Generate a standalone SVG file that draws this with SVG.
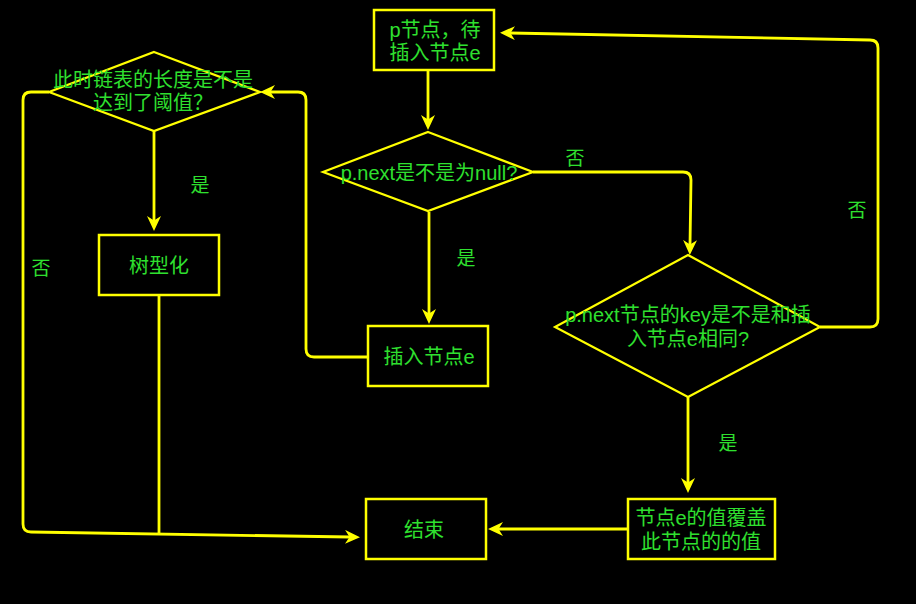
<svg xmlns="http://www.w3.org/2000/svg" width="916" height="604" viewBox="0 0 916 604">
<defs>
<style>
.bg{fill:#000}
.shape{fill:#000;stroke:#ffff00;stroke-width:2.5}
.dia{fill:none;stroke:#ffff00;stroke-width:2.2}
.t{font-family:"Liberation Sans","Noto Sans CJK SC",sans-serif;font-size:20px;fill:#2fe02f;text-anchor:middle;dominant-baseline:central}
.lbl{font-family:"Noto Sans CJK SC",sans-serif;font-size:19px;fill:#2fe02f;text-anchor:middle;dominant-baseline:central}
.edge{fill:none;stroke:#ffff00;stroke-width:2.8;marker-end:url(#arr)}
.plain{fill:none;stroke:#ffff00;stroke-width:2.8}
</style>
<marker id="arr" viewBox="0 0 15 14" markerWidth="15" markerHeight="14" refX="5" refY="7" orient="auto" markerUnits="userSpaceOnUse">
<path d="M0,0 L15,7 L0,14 L4.5,7 Z" fill="#ffff00"/>
</marker>
</defs>
<rect class="bg" x="0" y="0" width="916" height="604"/>

<g id="connectors">
<path class="edge" d="M428,71 L428,120"/>
<path class="edge" d="M533,172 L683,172 Q691,172 691,180 L690,245"/>
<path class="edge" d="M429,212 L429,314"/>
<path class="edge" d="M368,357 L314,357 Q306,357 306,349 L306,100 Q306,92 298,92 L270,92"/>
<path class="edge" d="M154,131 L154,221"/>
<path class="edge" d="M49,92 L31,92 Q23,92 23,100 L23,524 Q23,532 31,532 L350,537"/>
<path class="plain" d="M159,296 L159,534"/>
<path class="edge" d="M820,327 L870,327 Q878,327 878,319 L878,48 Q878,40 870,40 L510,33"/>
<path class="edge" d="M688,397 L688,483"/>
<path class="edge" d="M628,529 L498,529"/>
<text class="lbl" x="575" y="156">否</text>
<text class="lbl" x="466" y="256">是</text>
<text class="lbl" x="200" y="183">是</text>
<text class="lbl" x="41" y="266">否</text>
<text class="lbl" x="857" y="208">否</text>
<text class="lbl" x="728" y="441">是</text>
</g>

<g id="node-p">
<rect class="shape" x="374" y="10" width="120" height="60"/>
<text class="t" x="435" y="30">p节点，待</text>
<text class="t" x="435" y="53">插入节点e</text>
</g>

<g id="node-d1">
<polygon class="dia" points="428,132 533,172 428,211 323,172"/>
<text class="t" x="429" y="173">p.next是不是为null?</text>
</g>

<g id="node-d2">
<polygon class="dia" points="154,52 260,92 154,131 49,92"/>
<text class="t" x="153" y="80">此时链表的长度是不是</text>
<text class="t" x="153" y="103">达到了阈值？</text>
</g>

<g id="node-tree">
<rect class="shape" x="99" y="235" width="120" height="60"/>
<text class="t" x="159" y="266">树型化</text>
</g>

<g id="node-insert">
<rect class="shape" x="368" y="326" width="120" height="60"/>
<text class="t" x="429" y="357">插入节点e</text>
</g>

<g id="node-d3">
<polygon class="dia" points="688,255 820,327 688,397 555,327"/>
<text class="t" x="688" y="315">p.next节点的key是不是和插</text>
<text class="t" x="688" y="339">入节点e相同?</text>
</g>

<g id="node-end">
<rect class="shape" x="366" y="499" width="120" height="60"/>
<text class="t" x="424" y="530">结束</text>
</g>

<g id="node-cover">
<rect class="shape" x="628" y="499" width="147" height="60"/>
<text class="t" x="701" y="518">节点e的值覆盖</text>
<text class="t" x="701" y="542">此节点的的值</text>
</g>
</svg>
